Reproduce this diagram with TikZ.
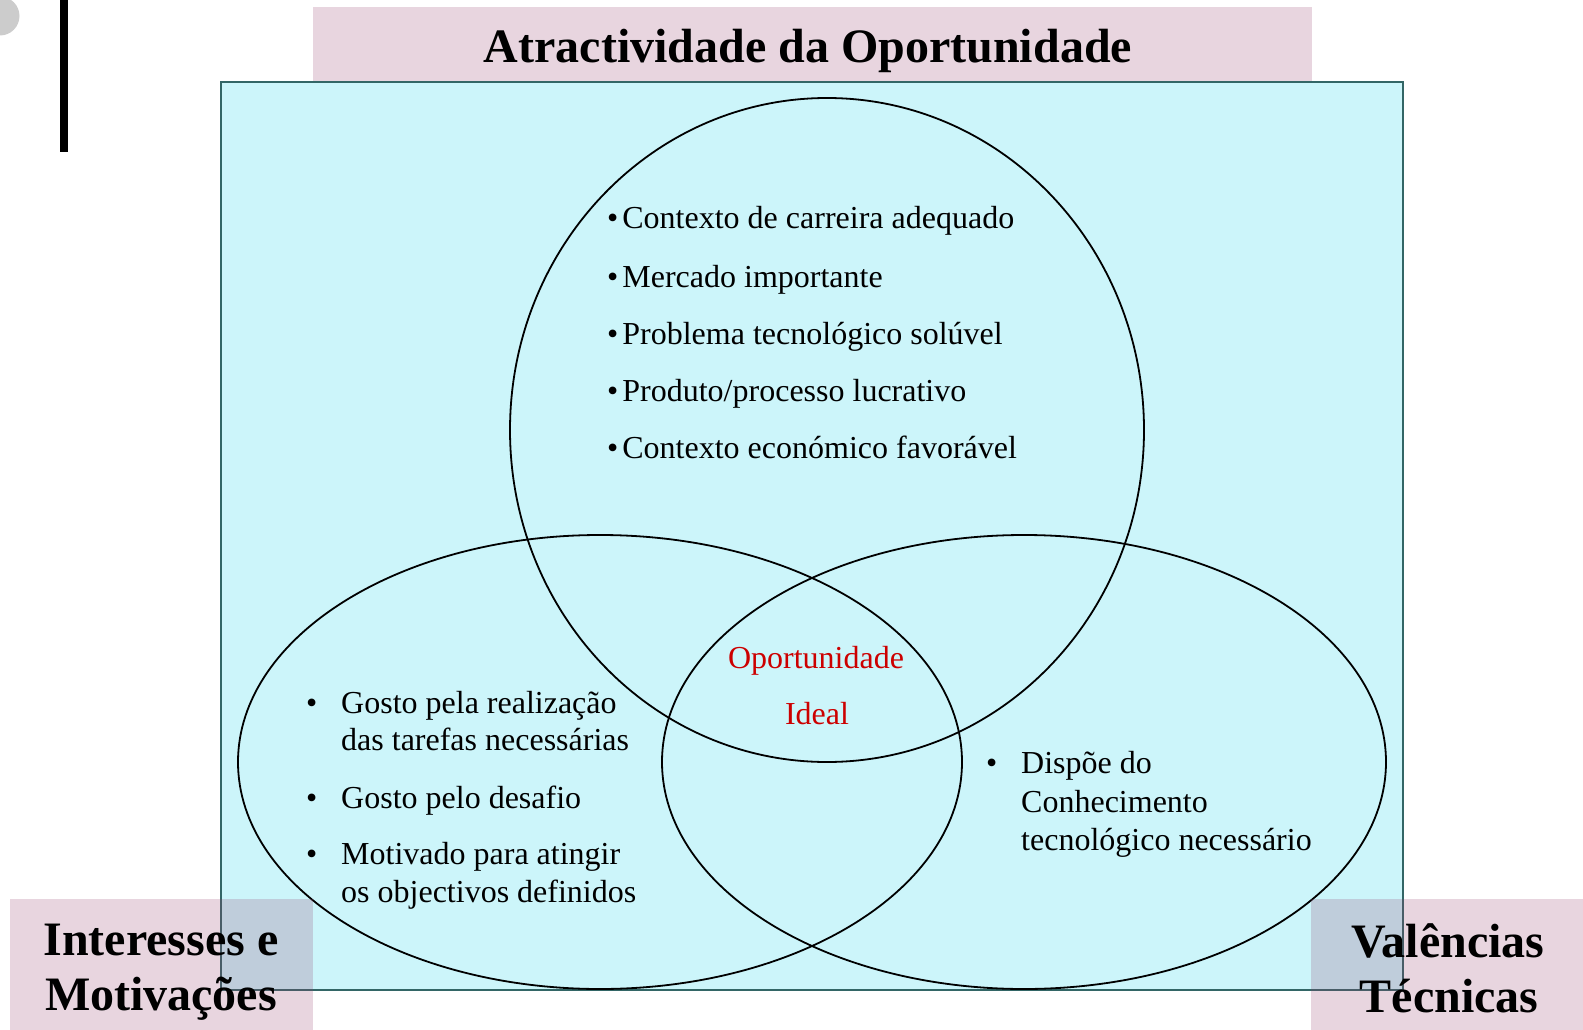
\documentclass[tikz,border=0pt]{standalone}
\usepackage{fontspec}
\setmainfont{Liberation Serif}
\definecolor{boxcyan}{RGB}{204,245,250}
\definecolor{boxedge}{RGB}{51,102,102}
\definecolor{pinkov}{RGB}{149,65,111}
\definecolor{idealred}{RGB}{204,0,0}
\definecolor{dotgray}{RGB}{204,204,204}
\begin{document}
\begin{tikzpicture}[x=1pt,y=-1pt,
  body/.style={inner sep=0pt, anchor=base west, font=\fontsize{32}{38}\selectfont},
  redtxt/.style={inner sep=0pt, anchor=base, text=idealred, font=\fontsize{32}{38}\selectfont},
  biglabel/.style={inner sep=0pt, anchor=base, font=\bfseries\fontsize{48}{56}\selectfont},
  pinkbox/.style={fill=pinkov, fill opacity=0.22, draw=none},
  venn/.style={draw=black, line width=1.8pt}]
\useasboundingbox (0,0) rectangle (1583,1030);
% decorations at top left
\fill[dotgray] (0,16) circle [radius=19.5pt];
\fill[black] (60,0) rectangle (68,152);
% top banner
\fill[pinkbox] (313,7) rectangle (1312,82);
\node[inner sep=0pt, anchor=base, font=\bfseries\fontsize{48}{56}\selectfont] (title) at (808,63) {Atractividade da Oportunidade};
% main box
\draw[fill=boxcyan, draw=boxedge, line width=2.5pt] (221,82) rectangle (1403,990);
% Venn shapes
\draw[venn] (827,430) ellipse [x radius=317pt, y radius=332pt];
\draw[venn] (600,762) ellipse [x radius=362pt, y radius=227pt];
\draw[venn] (1024,762) ellipse [x radius=362pt, y radius=227pt];
% top circle list
\node[body] (a1) at (607,229) {\textbullet\hspace{4pt}Contexto de carreira adequado};
\node[body] (a2) at (607,287) {\textbullet\hspace{4pt}Mercado importante};
\node[body] (a3) at (607,344) {\textbullet\hspace{4pt}Problema tecnológico solúvel};
\node[body] (a4) at (607,401) {\textbullet\hspace{4pt}Produto/processo lucrativo};
\node[body] (a5) at (607,458) {\textbullet\hspace{4pt}Contexto económico favorável};
% left ellipse list
\node[body] (b1d) at (306,713) {\textbullet};
\node[body] (b1a) at (341,713) {Gosto pela realização};
\node[body] (b1b) at (341,750) {das tarefas necessárias};
\node[body] (b2d) at (306,808) {\textbullet};
\node[body] (b2a) at (341,808) {Gosto pelo desafio};
\node[body] (b3d) at (306,864) {\textbullet};
\node[body] (b3a) at (341,864) {Motivado para atingir};
\node[body] (b3b) at (341,902) {os objectivos definidos};
% right ellipse list
\node[body] (c1d) at (986,773) {\textbullet};
\node[body] (c1a) at (1021,773) {Dispõe do};
\node[body] (c1b) at (1021,812) {Conhecimento};
\node[body] (c1c) at (1021,850) {tecnológico necessário};
% centre
\node[redtxt] (ideal1) at (816,668) {Oportunidade};
\node[redtxt] (ideal2) at (817,724) {Ideal};
% bottom labels
\fill[pinkbox] (10,899) rectangle (313,1030);
\fill[pinkbox] (1311,899) rectangle (1583,1030);
\node[biglabel] (l1a) at (161,955) {Interesses e};
\node[biglabel] (l1b) at (161,1010) {Motivações};
\node[biglabel] (l2a) at (1448,957) {Valências};
\node[biglabel] (l2b) at (1449,1012) {Técnicas};
\end{tikzpicture}
\end{document}
